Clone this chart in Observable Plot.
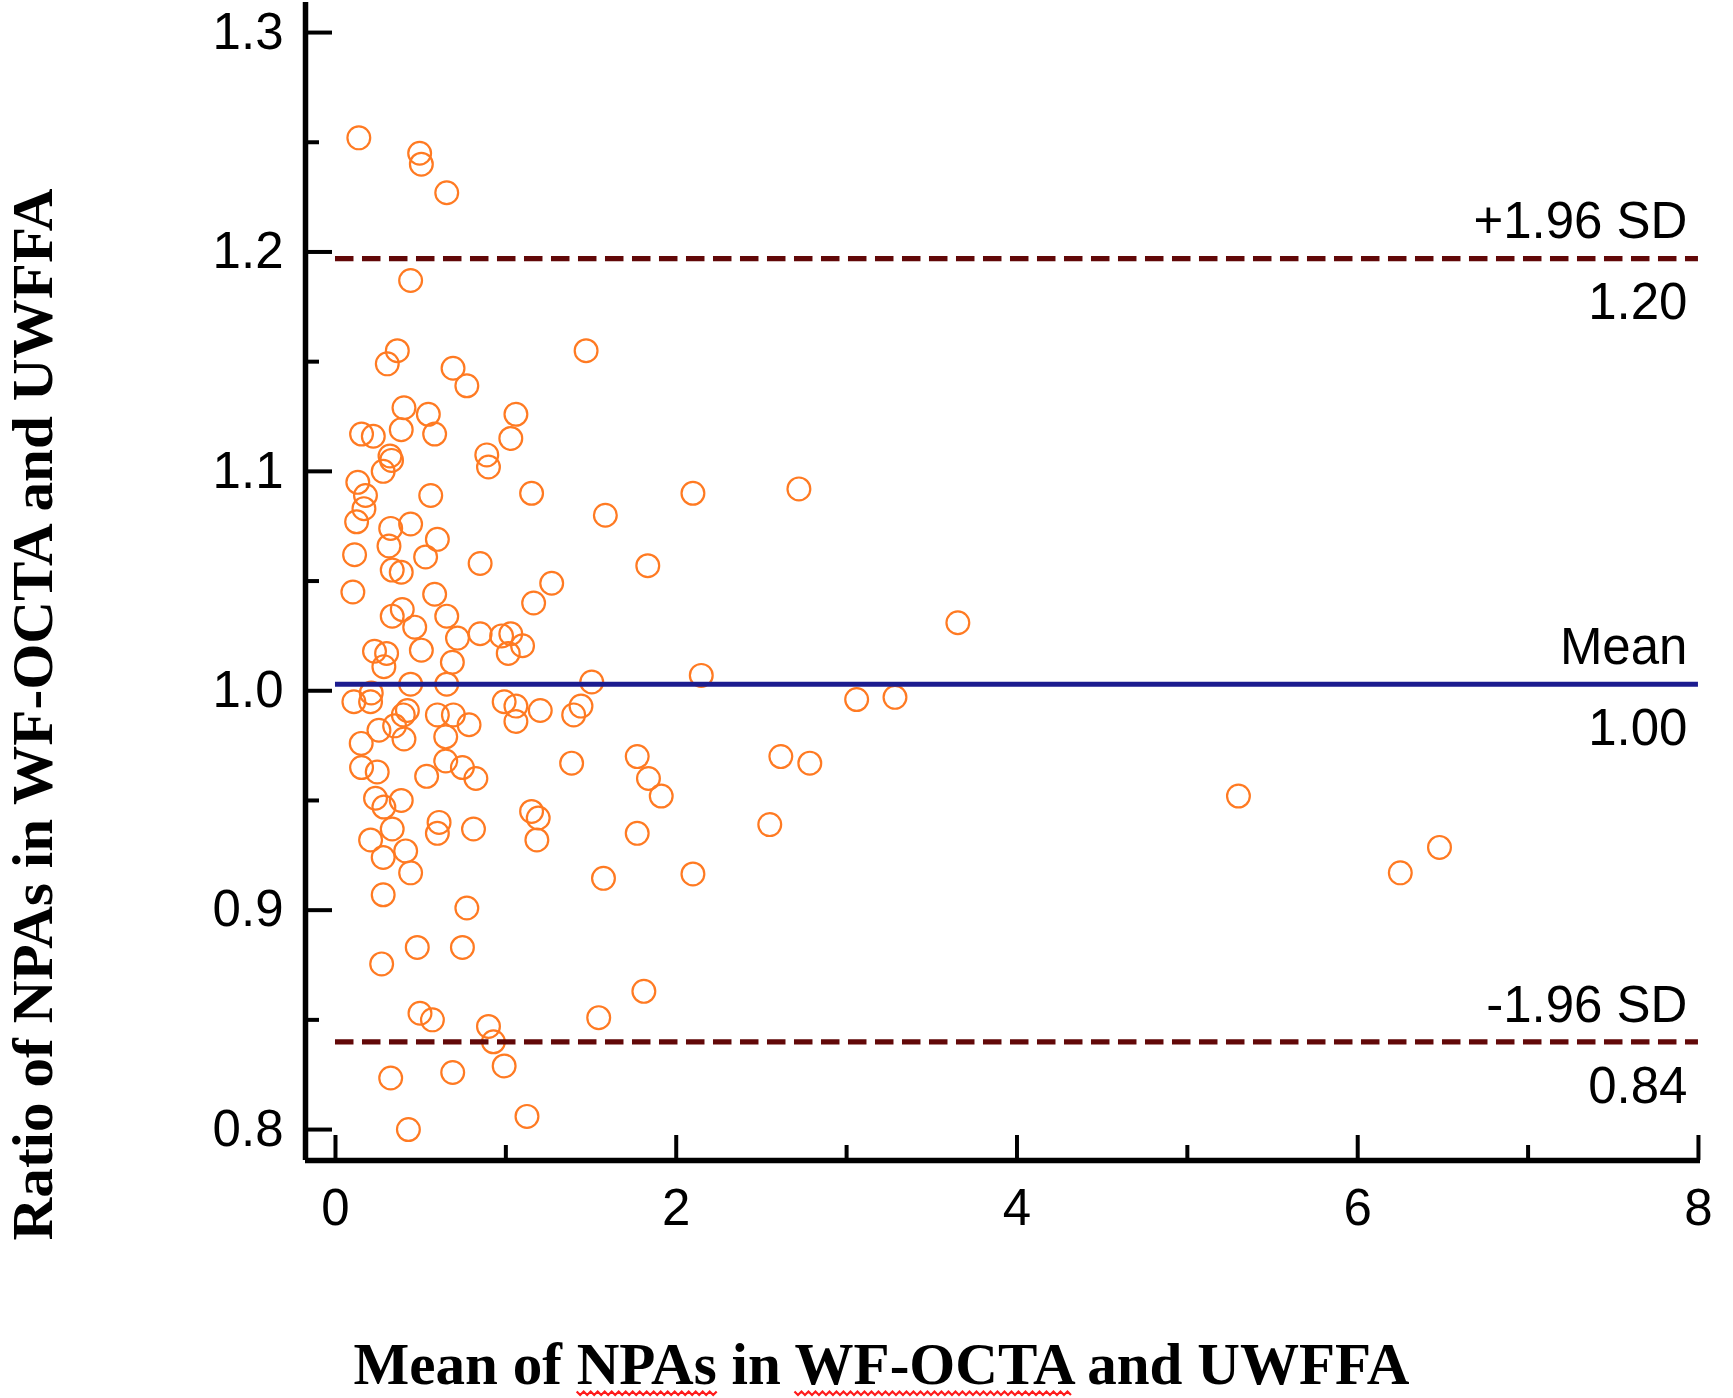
<!DOCTYPE html>
<html>
<head>
<meta charset="utf-8">
<script src="https://cdn.jsdelivr.net/npm/d3@7"></script>
<script src="https://cdn.jsdelivr.net/npm/@observablehq/plot@0.6"></script>
<style>
  html, body { margin: 0; padding: 0; background: #fff; }
</style>
</head>
<body>
<div id="chart"></div>
<script>
// ---- Data ----
// Mean of NPAs (x) and ratio of NPAs (y) for each eye
const meanNPA = [
  0.137,0.494,0.504,0.653,0.441,0.363,0.304,1.471,0.690,0.771,0.402,0.545,1.059,0.153,0.222,0.386,0.582,1.029,
  0.888,0.898,0.320,0.329,0.280,0.131,0.176,0.167,0.124,0.112,0.102,0.559,1.151,2.098,1.584,0.324,0.441,0.314,
  0.598,0.529,0.849,1.833,0.333,0.386,1.269,0.582,1.163,0.392,0.333,0.653,0.465,0.716,0.849,0.975,1.029,1.098,
  1.014,0.504,0.229,0.300,0.284,0.686,0.441,0.653,1.504,2.147,0.108,0.210,0.206,0.990,1.059,1.059,1.202,1.441,
  1.398,0.422,0.398,0.598,0.692,0.784,0.255,0.347,0.402,0.647,0.151,0.153,0.245,0.647,0.745,0.535,0.824,1.386,
  1.771,1.837,1.912,0.235,0.284,0.386,1.151,1.190,0.608,0.598,0.333,0.810,1.182,1.771,0.206,0.280,0.412,
  0.441,1.573,2.098,0.280,0.771,0.480,0.745,0.271,1.810,0.496,0.569,1.545,0.898,0.927,0.990,0.324,0.688,1.124,0.428,
  2.720,3.653,3.059,3.284,2.614,2.784,2.549,5.300,6.250,6.480
];
const ratioNPA = [
  1.252,1.245,1.240,1.227,1.187,1.155,1.149,1.155,1.147,1.139,1.129,1.126,1.126,1.117,1.116,1.119,1.117,1.115,
  1.1075,1.102,1.107,1.105,1.100,1.095,1.089,1.083,1.077,1.062,1.045,1.089,1.090,1.090,1.080,1.074,1.076,1.066,
  1.069,1.061,1.058,1.057,1.055,1.054,1.049,1.044,1.040,1.037,1.034,1.034,1.029,1.024,1.026,1.025,1.026,1.0205,
  1.017,1.0185,1.018,1.017,1.011,1.013,1.003,1.003,1.004,1.007,0.995,0.999,0.995,0.995,0.993,0.986,0.991,0.993,
  0.989,0.991,0.989,0.989,0.989,0.9845,0.982,0.984,0.978,0.979,0.976,0.965,0.963,0.968,0.965,0.961,0.960,0.967,
  0.970,0.960,0.952,0.951,0.947,0.950,0.945,0.942,0.940,0.935,0.937,0.937,0.932,0.935,0.932,0.924,0.927,
  0.917,0.9145,0.9165,0.907,0.901,0.883,0.883,0.8755,0.863,0.853,0.850,0.851,0.847,0.840,0.829,0.8235,0.826,0.806,0.800,
  1.092,1.031,0.996,0.997,0.970,0.967,0.939,0.952,0.917,0.9286
];

// Reference lines (limits of agreement and mean)
const refNames  = ["+1.96 SD", "Mean", "-1.96 SD"];
const refValues = [1.197, 1.003, 0.840];
const refLabels = ["1.20", "1.00", "0.84"];
const refDashed = [true, false, true];

// Axis ticks
const yMajorTicks = [0.8, 0.9, 1.0, 1.1, 1.2, 1.3];
const yMinorTicks = [0.85, 0.95, 1.05, 1.15, 1.25];
const xMajorTicks = [0, 2, 4, 6, 8];
const xMinorTicks = [1, 3, 5, 7];

const xTitle = "Mean of NPAs in WF-OCTA and UWFFA";
const yTitle = "Ratio of NPAs in WF-OCTA and UWFFA";
const flaggedWords = ["NPAs", "WF-OCTA"];

// ---- Build tables ----
const points = meanNPA.map((m, i) => ({mean: m, ratio: ratioNPA[i]}));
const refLines = refNames.map((n, i) => ({name: n, value: refValues[i], label: refLabels[i], dashed: refDashed[i]}));

// ---- Layout ----
const W = 1733, H = 1398;
const mL = 305, mR = 33, mT = 2, mB = 238;
const plotW = W - mL - mR, plotH = H - mT - mB;
const xDomain = [-0.176, 8.012];
const yDomain = [0.7859, 1.3137];
const xEnd = xMajorTicks[xMajorTicks.length - 1];
const sans = "Liberation Sans, Arial, sans-serif";
const serif = "Liberation Serif, Times New Roman, serif";

const chart = Plot.plot({
  width: W,
  height: H,
  marginLeft: mL,
  marginRight: mR,
  marginTop: mT,
  marginBottom: mB,
  style: {background: "#fff"},
  x: {domain: xDomain, axis: null},
  y: {domain: yDomain, axis: null},
  marks: [
    // data points
    Plot.dot(points, {x: "mean", y: "ratio", r: 11.4, stroke: "#ff7a22", strokeWidth: 2.2, fill: "none"}),
    // mean and limits of agreement
    Plot.ruleY(refLines.filter(d => !d.dashed), {y: "value", x1: 0, x2: xEnd, stroke: "#1c1c8f", strokeWidth: 5}),
    Plot.ruleY(refLines.filter(d => d.dashed), {y: "value", x1: 0, x2: xEnd, stroke: "#620808", strokeWidth: 5.2, strokeDasharray: "18.5,8.5"}),
    Plot.text(refLines, {x: xEnd, y: "value", text: "name", textAnchor: "end", lineAnchor: "middle", dx: -11, dy: -36.6, fontSize: 51, fontFamily: sans, fill: "#000"}),
    Plot.text(refLines, {x: xEnd, y: "value", text: "label", textAnchor: "end", lineAnchor: "middle", dx: -11, dy: 44.4, fontSize: 51, fontFamily: sans, fill: "#000"}),
    // axis lines
    Plot.ruleX([xDomain[0]], {stroke: "#000", strokeWidth: 5.5}),
    Plot.ruleY([yDomain[0]], {stroke: "#000", strokeWidth: 5.5}),
    // inward ticks
    Plot.tickY(yMajorTicks, {y: d => d, insetRight: plotW - 27, stroke: "#000", strokeWidth: 4}),
    Plot.tickY(yMinorTicks, {y: d => d, insetRight: plotW - 14, stroke: "#000", strokeWidth: 4}),
    Plot.tickX(xMajorTicks, {x: d => d, insetTop: plotH - 25, stroke: "#000", strokeWidth: 4}),
    Plot.tickX(xMinorTicks, {x: d => d, insetTop: plotH - 15, stroke: "#000", strokeWidth: 4}),
    // tick labels
    Plot.text(yMajorTicks, {x: xDomain[0], y: d => d, text: d => d.toFixed(1), textAnchor: "end", lineAnchor: "middle", dx: -22, fontSize: 51, fontFamily: sans, fill: "#000"}),
    Plot.text(xMajorTicks, {x: d => d, y: yDomain[0], text: d => String(d), textAnchor: "middle", lineAnchor: "middle", dy: 48, fontSize: 51, fontFamily: sans, fill: "#000"}),
    // axis titles
    Plot.text([xTitle], {text: d => d, frameAnchor: "bottom", textAnchor: "middle", lineAnchor: "middle", dx: 881 - (mL + plotW / 2), dy: 1383 - 19.2 - (H - mB), fontSize: 60, fontFamily: serif, fontWeight: "bold", fill: "#000"}),
    Plot.text([yTitle], {text: d => d, frameAnchor: "left", textAnchor: "middle", lineAnchor: "middle", rotate: -90, dx: 33 - mL, dy: 714 - (mT + plotH / 2), fontSize: 57, fontFamily: serif, fontWeight: "bold", fill: "#000"})
  ]
});

document.getElementById("chart").appendChild(chart);

// Fit title lengths and draw spell-check style wavy underlines
const texts = [...chart.querySelectorAll("text")];
const tx = texts.find(n => n.textContent === xTitle);
const ty = texts.find(n => n.textContent === yTitle);
if (ty) { ty.setAttribute("textLength", 1052); ty.setAttribute("lengthAdjust", "spacingAndGlyphs"); }
if (tx) {
  tx.setAttribute("textLength", 1056);
  tx.setAttribute("lengthAdjust", "spacingAndGlyphs");
  flaggedWords.forEach(word => {
    const i0 = xTitle.indexOf(word);
    const a = tx.getStartPositionOfChar(i0);
    const b = tx.getEndPositionOfChar(i0 + word.length - 1);
    const yb = a.y + 8;
    const step = 3.5;
    let dPath = `M${a.x},${yb}`;
    let k = 0;
    for (let xx = a.x + step; xx <= b.x + 0.01; xx += step, k++) {
      dPath += `L${xx},${yb + (k % 2 === 0 ? 3.5 : 0)}`;
    }
    const p = document.createElementNS("http://www.w3.org/2000/svg", "path");
    p.setAttribute("d", dPath);
    p.setAttribute("fill", "none");
    p.setAttribute("stroke", "#ff1a1a");
    p.setAttribute("stroke-width", "2.2");
    const tr = tx.getAttribute("transform");
    if (tr) p.setAttribute("transform", tr);
    tx.parentNode.appendChild(p);
  });
}
</script>
</body>
</html>
